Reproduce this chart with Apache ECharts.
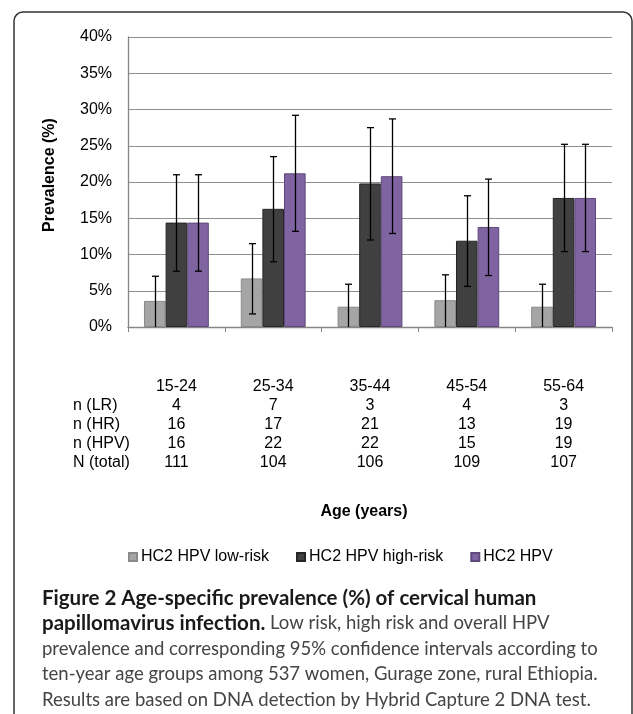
<!DOCTYPE html>
<html>
<head>
<meta charset="utf-8">
<script src="https://cdn.jsdelivr.net/npm/echarts@6/dist/echarts.min.js"></script>
<style>
html,body{margin:0;padding:0;background:#fff;}
#chart{width:633px;height:714px;}
</style>
</head>
<body>
<div id="chart"></div>
<script>
// ---- data ----
const ageGroups = ['15-24', '25-34', '35-44', '45-54', '55-64'];
const seriesNames = ['HC2 HPV low-risk', 'HC2 HPV high-risk', 'HC2 HPV'];
const lowRisk = [3.6, 6.7, 2.8, 3.7, 2.8];
const lowRiskLo = [0, 1.8, 0, 0, 0];
const lowRiskHi = [7.0, 11.5, 5.9, 7.2, 5.9];
const highRisk = [14.4, 16.3, 19.8, 11.9, 17.8];
const highRiskLo = [7.7, 9.0, 12.0, 5.6, 10.4];
const highRiskHi = [21.0, 23.5, 27.5, 18.1, 25.2];
const anyHpv = [14.4, 21.2, 20.8, 13.8, 17.8];
const anyHpvLo = [7.7, 13.2, 12.9, 7.1, 10.4];
const anyHpvHi = [21.0, 29.2, 28.7, 20.4, 25.2];
const rowLabels = ['n (LR)', 'n (HR)', 'n (HPV)', 'N (total)'];
const nLR = ['4', '7', '3', '4', '3'];
const nHR = ['16', '17', '21', '13', '19'];
const nHPV = ['16', '22', '22', '15', '19'];
const nTotal = ['111', '104', '106', '109', '107'];
const yTicks = [0, 5, 10, 15, 20, 25, 30, 35, 40];
const captionLines = [
  ['Figure 2 Age-specific prevalence (%) of cervical human', ''],
  ['papillomavirus infection.', ' Low risk, high risk and overall HPV'],
  ['', 'prevalence and corresponding 95% confidence intervals according to'],
  ['', 'ten-year age groups among 537 women, Gurage zone, rural Ethiopia.'],
  ['', 'Results are based on DNA detection by Hybrid Capture 2 DNA test.']
];

// ---- style ----
const FONT = '"Liberation Sans", Arial, sans-serif';
const colors = ['#a5a5a5', '#404040', '#8064a2'];
const borders = ['#8a8a8a', '#262626', '#5e4a7a'];
const CAT_GAP = 0.33;

const chart = echarts.init(document.getElementById('chart'));

const values = [lowRisk, highRisk, anyHpv];
const los = [lowRiskLo, highRiskLo, anyHpvLo];
const his = [lowRiskHi, highRiskHi, anyHpvHi];

const barSeries = values.map((v, i) => ({
  name: seriesNames[i],
  type: 'bar',
  data: v,
  barGap: '0%',
  barCategoryGap: (CAT_GAP * 100) + '%',
  itemStyle: { color: colors[i], borderColor: borders[i], borderWidth: 1 },
  emphasis: { disabled: true },
  z: 2
}));

const errSeries = values.map((v, i) => ({
  type: 'custom',
  name: 'err' + i,
  data: v.map((_, k) => [k, los[i][k], his[i][k]]),
  z: 5,
  silent: true,
  renderItem: function (params, api) {
    const k = api.value(0);
    const lo = api.value(1), hi = api.value(2);
    const band = api.size([1, 0])[0];
    const bw = band * (1 - CAT_GAP) / 3;
    const pTop = api.coord([k, hi]);
    const pBot = api.coord([k, lo]);
    const x = Math.round(pTop[0] + (i - 1) * bw) + 0.5;
    const cap = 3.5;
    const st = { stroke: '#000', lineWidth: 1.3, fill: null };
    const children = [
      { type: 'line', shape: { x1: x, y1: pTop[1], x2: x, y2: pBot[1] }, style: st },
      { type: 'line', shape: { x1: x - cap, y1: pTop[1], x2: x + cap, y2: pTop[1] }, style: st }
    ];
    if (lo > 0) {
      children.push({ type: 'line', shape: { x1: x - cap, y1: pBot[1], x2: x + cap, y2: pBot[1] }, style: st });
    }
    return { type: 'group', children: children };
  }
}));

const ROW_GAP = 19;
const tableRows = [nLR, nHR, nHPV, nTotal];
const xAxes = [{
  type: 'category',
  data: ageGroups,
  axisLine: { lineStyle: { color: '#868686', width: 1.3 } },
  axisTick: { show: true, length: 5, lineStyle: { color: '#868686' } },
  axisLabel: { margin: 52, fontSize: 16, color: '#000', fontFamily: FONT }
}];
tableRows.forEach((row, r) => {
  xAxes.push({
    type: 'category',
    data: row,
    position: 'bottom',
    offset: (r + 1) * ROW_GAP,
    axisLine: { show: false },
    axisTick: { show: false },
    axisLabel: { margin: 52, fontSize: 16, color: '#000', fontFamily: FONT }
  });
});

const graphics = [
  { type: 'rect', shape: { x: 14, y: 12, width: 618, height: 800, r: 9 },
    style: { fill: null, stroke: '#333', lineWidth: 1.5 }, silent: true },
  { type: 'text', x: 50, y: 175, rotation: Math.PI / 2,
    style: { text: 'Prevalence (%)', font: 'bold 16px ' + FONT, fill: '#000', align: 'center', verticalAlign: 'middle' } },
  { type: 'text', x: 364, y: 512,
    style: { text: 'Age (years)', font: 'bold 16px ' + FONT, fill: '#000', align: 'center', verticalAlign: 'middle' } }
];
rowLabels.forEach((t, r) => {
  graphics.push({ type: 'text', x: 73, y: 387 + (r + 1) * ROW_GAP,
    style: { text: t, font: '16px ' + FONT, fill: '#000', align: 'left', verticalAlign: 'middle' } });
});
const CAP_FONT = 'Lato, "Open Sans", sans-serif';
captionLines.forEach((ln, r) => {
  let txt = '';
  if (ln[0]) txt += '{b|' + ln[0] + '}';
  if (ln[1]) txt += '{r|' + ln[1] + '}';
  graphics.push({ type: 'text', x: 42, y: 598 + r * 25.5,
    style: {
      text: txt, verticalAlign: 'middle', align: 'left',
      rich: {
        b: { fontFamily: CAP_FONT, fontWeight: 'bold', fontSize: 20.5, fill: '#1a1a1a', color: '#1a1a1a' },
        r: { fontFamily: CAP_FONT, fontWeight: 'normal', fontSize: 18.5, fill: '#454545', color: '#454545' }
      }
    } });
});

chart.setOption({
  animation: false,
  textStyle: { fontFamily: FONT },
  grid: { left: 128, right: 21, top: 37, height: 290 },
  legend: {
    data: seriesNames,
    left: 128, top: 549, padding: 0,
    itemWidth: 8, itemHeight: 8, itemGap: 27,
    icon: 'rect',
    textStyle: { fontSize: 16, color: '#000', fontFamily: FONT, padding: [0, 0, 0, -1] }
  },
  xAxis: xAxes,
  yAxis: {
    type: 'value',
    min: yTicks[0], max: yTicks[yTicks.length - 1], interval: 5,
    axisLine: { show: true, lineStyle: { color: '#868686', width: 1.3 } },
    axisTick: { show: false },
    splitLine: { lineStyle: { color: '#8f8f8f', width: 1.2 } },
    axisLabel: { formatter: '{value}%', fontSize: 16, color: '#000', margin: 16, fontFamily: FONT }
  },
  series: barSeries.concat(errSeries),
  graphic: graphics
});
</script>
</body>
</html>
